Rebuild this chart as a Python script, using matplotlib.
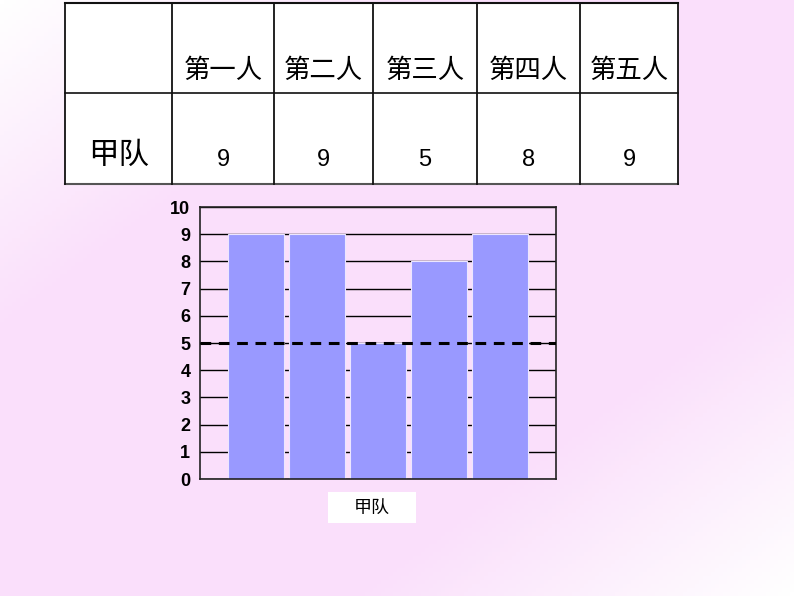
import numpy as np
import matplotlib
matplotlib.use("Agg")
import matplotlib.pyplot as plt
from matplotlib.patches import Rectangle

# ---- data ----
people = ["第一人", "第二人", "第三人", "第四人", "第五人"]
team = "甲队"
scores = [9, 9, 5, 8, 9]
mean_line = 5
yticks = list(range(0, 11))

W, H = 794, 596
fig = plt.figure(figsize=(W / 100, H / 100), dpi=100)

# ---- background gradient (diagonal white -> pink -> white) ----
bg = fig.add_axes([0, 0, 1, 1])
bg.set_xlim(0, W)
bg.set_ylim(H, 0)
bg.axis("off")
xx, yy = np.meshgrid(np.linspace(0, 1, 200), np.linspace(0, 1, 150))
t = (xx + yy) / 2.0
w = 1 - np.abs(t - 0.5) * 2
w = np.clip(w * 1.8, 0, 1)
white = np.array([1.0, 1.0, 1.0])
pink = np.array([0xFA, 0xDF, 0xFB]) / 255.0
img = white[None, None, :] * (1 - w[..., None]) + pink[None, None, :] * w[..., None]
bg.imshow(img, extent=[0, W, H, 0], aspect="auto", zorder=0)

# ---- table ----
cn = ["Noto Sans CJK SC", "DejaVu Sans"]
tx0, tx1 = 65, 678
ty0, ty1, ty2 = 3, 93, 184
col_x = [65, 172, 274, 373, 477, 580, 678]
bg.add_patch(Rectangle((tx0, ty0), tx1 - tx0, ty2 - ty0, facecolor="white",
                       edgecolor="none", zorder=1))
lc = "#111111"
bg.plot([tx0, tx1], [ty0, ty0], color=lc, lw=1.5, zorder=2)
bg.plot([tx0, tx1], [ty1, ty1], color=lc, lw=1.2, zorder=2)
bg.plot([tx0, tx1], [ty2, ty2], color="#555555", lw=1.5, zorder=2)
for x in col_x:
    bg.plot([x, x], [ty0, ty2], color=lc, lw=1.3, zorder=2)
for i, p in enumerate(people):
    cx = (col_x[i + 1] + col_x[i + 2]) / 2
    bg.text(cx, 70, p, family=cn, fontsize=19, fontweight="medium",
            ha="center", va="center", zorder=3)
    bg.text(cx, 160, str(scores[i]), family=["Liberation Sans", "DejaVu Sans"],
            fontsize=17, ha="center", va="center", zorder=3)
bg.text((col_x[0] + col_x[1]) / 2, 155, team, family=cn, fontsize=22,
        ha="center", va="center", zorder=3)

# ---- label box under chart ----
bg.add_patch(Rectangle((328, 492), 88, 31, facecolor="white", edgecolor="none", zorder=1))
bg.text(372, 508, team, family=cn, fontsize=13, ha="center", va="center", zorder=3)

# ---- bar chart ----
ax = fig.add_axes([200 / W, (H - 479) / H, 356 / W, 272 / H])
ax.patch.set_alpha(0)
x = np.arange(len(scores))
ax.set_axisbelow(True)
ax.yaxis.grid(True, color="black", lw=1.0)
ax.bar(x, scores, width=0.91, color="#9999FF", edgecolor="#ECE6FF",
       linewidth=0.8, zorder=2)
ax.axhline(mean_line, color="black", lw=2.2, linestyle=(0, (3.5, 2.5)), zorder=3)
ax.set_xlim(-0.92, 4.92)
ax.set_ylim(0, 10)
ax.set_yticks(yticks)
ax.set_xticks([])
ax.tick_params(axis="y", length=0, pad=7)
for lab in ax.get_yticklabels():
    lab.set_fontfamily(["Liberation Sans", "DejaVu Sans"])
    lab.set_fontweight("bold")
    lab.set_fontsize(13)
for s in ax.spines.values():
    s.set_color("#222222")
    s.set_linewidth(1.2)

fig.savefig("out.png", dpi=100)
